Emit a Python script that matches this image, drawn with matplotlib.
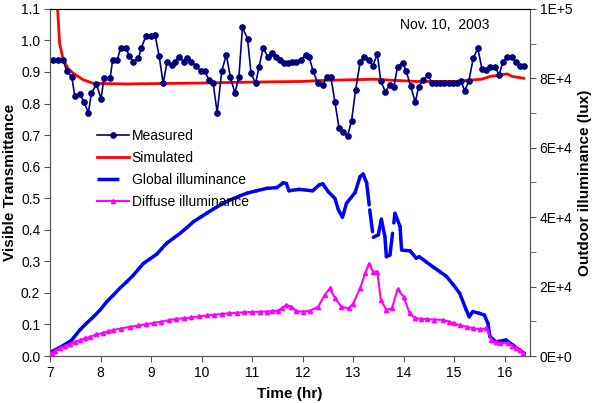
import matplotlib
matplotlib.use("Agg")
import matplotlib.pyplot as plt
from matplotlib.collections import LineCollection
from matplotlib.lines import Line2D
from matplotlib.ticker import MultipleLocator, FuncFormatter

plt.rcParams['font.family'] = ['Liberation Sans', 'DejaVu Sans']

# measured visible transmittance
meas_t = [7.06, 7.16, 7.26, 7.33, 7.43, 7.49, 7.59, 7.67, 7.76, 7.82, 7.92, 8.01, 8.07, 8.19,
          8.24, 8.33, 8.40, 8.50, 8.57, 8.65, 8.75, 8.81, 8.90, 8.99, 9.08, 9.16, 9.24, 9.32,
          9.41, 9.47, 9.56, 9.65, 9.72, 9.80, 9.89, 9.98, 10.06, 10.15, 10.23, 10.31, 10.40,
          10.49, 10.57, 10.66, 10.74, 10.81, 10.91, 10.98, 11.07, 11.14, 11.22, 11.31, 11.40,
          11.47, 11.55, 11.64, 11.72, 11.80, 11.88, 11.97, 12.06, 12.13, 12.21, 12.30, 12.40,
          12.48, 12.56, 12.64, 12.72, 12.81, 12.89, 12.97, 13.05, 13.14, 13.22, 13.31, 13.39,
          13.48, 13.55, 13.64, 13.73, 13.81, 13.88, 13.98, 14.05, 14.14, 14.23, 14.30, 14.39,
          14.48, 14.56, 14.64, 14.72, 14.80, 14.89, 14.97, 15.05, 15.13, 15.21, 15.29, 15.38,
          15.47, 15.55, 15.64, 15.72, 15.81, 15.89, 15.97, 16.05, 16.14, 16.22, 16.30, 16.38]
meas_v = [0.938, 0.938, 0.938, 0.903, 0.885, 0.824, 0.829, 0.806, 0.771, 0.833, 0.861, 0.815,
          0.882, 0.880, 0.938, 0.938, 0.977, 0.977, 0.951, 0.933, 0.944, 0.977, 1.015, 1.015,
          1.017, 0.951, 0.864, 0.933, 0.922, 0.933, 0.947, 0.933, 0.944, 0.933, 0.920, 0.903,
          0.903, 0.874, 0.864, 0.771, 0.903, 0.954, 0.885, 0.833, 0.885, 1.041, 1.006, 0.896,
          0.864, 0.917, 0.977, 0.948, 0.961, 0.947, 0.938, 0.930, 0.927, 0.933, 0.933, 0.938,
          0.954, 0.947, 0.903, 0.864, 0.859, 0.885, 0.884, 0.806, 0.724, 0.709, 0.697, 0.745,
          0.843, 0.931, 0.949, 0.938, 0.919, 0.957, 0.870, 0.838, 0.859, 0.854, 0.917, 0.930,
          0.903, 0.856, 0.804, 0.854, 0.874, 0.891, 0.866, 0.864, 0.866, 0.864, 0.864, 0.864,
          0.864, 0.873, 0.841, 0.870, 0.944, 0.975, 0.911, 0.906, 0.917, 0.917, 0.891, 0.933,
          0.946, 0.946, 0.933, 0.920, 0.920]

# simulated visible transmittance
sim_t = [7.10, 7.15, 7.19, 7.26, 7.36, 7.46, 7.66, 7.86, 8.5, 10.0, 11.0, 12.0, 12.34, 13.4,
         14.25, 15.0, 15.54, 15.72, 16.05, 16.15, 16.38]
sim_v = [1.25, 1.10, 0.99, 0.94, 0.91, 0.896, 0.875, 0.864, 0.862, 0.865, 0.868, 0.870, 0.873,
         0.877, 0.870, 0.870, 0.877, 0.886, 0.894, 0.886, 0.880]

# global illuminance (lux)
glob_t = [7.03, 7.20, 7.35, 7.43, 7.59, 7.72, 7.86, 8.00, 8.12, 8.25, 8.38, 8.52, 8.65, 8.75,
          8.85, 8.98, 9.11, 9.21, 9.31, 9.45, 9.58, 9.71, 9.84, 9.98, 10.11, 10.24, 10.37, 10.50,
          10.64, 10.77, 10.90, 11.09, 11.29, 11.49, 11.62, 11.68, 11.73, 11.93, 12.20, 12.33,
          12.40, 12.51, 12.64, 12.71, 12.79, 12.87, 13.04, 13.14, 13.20, 13.27, 13.33, 13.40,
          13.50, 13.56, 13.63, 13.66, 13.73, 13.83, 13.93, 13.96, 14.13, 14.25, 14.31, 14.45,
          14.58, 14.72, 14.85, 14.98, 15.11, 15.24, 15.30, 15.37, 15.50, 15.60, 15.67, 15.71,
          15.83, 16.03, 16.16, 16.29, 16.39]
glob_l = [1240, 2500, 3800, 4600, 7500, 9400, 11300, 13400, 15600, 17500, 19500, 21400, 23300,
          25000, 26700, 28000, 29300, 30900, 32500, 34000, 35400, 37000, 38700, 40000, 41200,
          42400, 43500, 44500, 45400, 46200, 46900, 47600, 48300, 48500, 49900, 49700, 47600,
          48000, 47600, 49300, 49600, 47300, 45400, 42100, 40000, 44000, 47100, 51700, 52400,
          49800, 42100, 34200, 34900, 39400, 34400, 28600, 29100, 41100, 37300, 30500, 30300,
          28200, 28600, 27100, 25700, 24300, 22900, 20600, 18100, 13300, 11300, 12800, 12300,
          11800, 9400, 5600, 4100, 4600, 3200, 1700, 800]

# diffuse illuminance (lux)
diff_t = [7.03, 7.10, 7.20, 7.30, 7.40, 7.50, 7.60, 7.70, 7.80, 7.92, 8.05, 8.15, 8.25, 8.40,
          8.58, 8.75, 8.90, 9.05, 9.20, 9.35, 9.50, 9.65, 9.80, 9.95, 10.10, 10.25, 10.40, 10.55,
          10.70, 10.85, 11.00, 11.15, 11.29, 11.40, 11.52, 11.60, 11.68, 11.78, 11.88, 12.00,
          12.14, 12.31, 12.44, 12.54, 12.64, 12.77, 12.91, 13.00, 13.14, 13.24, 13.31, 13.40,
          13.48, 13.55, 13.66, 13.77, 13.88, 14.00, 14.12, 14.23, 14.35, 14.46, 14.60, 14.79,
          14.90, 14.99, 15.12, 15.25, 15.38, 15.51, 15.64, 15.74, 15.82, 15.90, 16.07, 16.15,
          16.23, 16.30, 16.37]
diff_l = [950, 1500, 2300, 2900, 3500, 4100, 4600, 5100, 5600, 6200, 6700, 7100, 7500, 7900,
          8400, 8800, 9150, 9500, 9900, 10300, 10700, 10900, 11100, 11400, 11700, 11900, 12100,
          12300, 12500, 12600, 12700, 12750, 12800, 12900, 13100, 13900, 14700, 14200, 12900,
          12800, 13000, 14200, 17600, 19500, 16600, 14200, 13700, 15100, 19500, 23800, 26500,
          24300, 24300, 16100, 13300, 13700, 19200, 17100, 12300, 10900, 10700, 10600, 10500,
          10400, 9900, 9400, 8900, 8400, 8000, 7700, 8000, 4600, 3900, 3700, 3700, 3000, 2200,
          1700, 950]


def lux_fmt(v, pos):
    if v == 0:
        return "0E+0"
    exp = len(str(int(round(v)))) - 1
    return "%dE+%d" % (round(v / 10 ** exp), exp)


fig, ax = plt.subplots(figsize=(5.94, 4.03), dpi=100)
fig.subplots_adjust(left=0.0842, right=0.892, bottom=0.1166, top=0.978)
ax2 = ax.twinx()

ax.plot(sim_t, sim_v, color='#FF0000', lw=2.0, zorder=2)
ax.plot(meas_t, meas_v, color='#000080', lw=1.2, marker='o', ms=3.8, zorder=3)

# Excel-like dashes: pattern restarts on every segment
segs = [[(glob_t[i], glob_l[i]), (glob_t[i + 1], glob_l[i + 1])] for i in range(len(glob_t) - 1)]
lc = LineCollection(segs, colors='#0000FF', linewidths=2.5, linestyles=[(0, (6.3, 3.0))],
                    capstyle='round')
ax2.add_collection(lc)
ax2.plot(diff_t, diff_l, color='#FF00FF', lw=1.5, marker='^', ms=3, zorder=3)

ax.set_xlim(7, 16.5)
ax.set_ylim(0, 1.1)
ax.xaxis.set_major_locator(MultipleLocator(1))
ax.yaxis.set_major_locator(MultipleLocator(0.1))
ax.yaxis.set_major_formatter(FuncFormatter(lambda v, p: "%.1f" % v))
ax2.yaxis.set_major_locator(MultipleLocator(20000))
ax2.yaxis.set_minor_locator(MultipleLocator(10000))
ax2.yaxis.set_major_formatter(FuncFormatter(lux_fmt))
ax2.set_ylim(0, 100000)

for a in (ax, ax2):
    a.tick_params(labelsize=10, direction='out', length=4, color='#555555', pad=3)
    a.tick_params(which='minor', direction='out', length=4, color='#555555')
    for s in ('left', 'right', 'bottom'):
        a.spines[s].set_color('#555555')
    a.spines['top'].set_color('black')

ax.set_xlabel('Time (hr)', fontsize=11, fontweight='bold', labelpad=5)
ax.set_ylabel('Visible Transmittance', fontsize=11, fontweight='bold', labelpad=3)
ax2.set_ylabel('Outdoor illuminance (lux)', fontsize=11, fontweight='bold', rotation=90,
               labelpad=4)

ax.text(0.823, 0.954, 'Nov. 10,  2003', transform=ax.transAxes, ha='center', va='center',
        fontsize=10)

handles = [
    Line2D([], [], color='#000080', lw=1.2, marker='o', ms=3.8),
    Line2D([], [], color='#FF0000', lw=2.0),
    Line2D([], [], color='#0000FF', lw=2.5, dashes=(6.3, 3.0)),
    Line2D([], [], color='#FF00FF', lw=1.5, marker='^', ms=3),
]
labels = ['Measured', 'Simulated', 'Global illuminance', 'Diffuse illuminance']
leg = ax2.legend(handles, labels, loc='upper left', bbox_to_anchor=(0.098, 0.655), frameon=False,
                 fontsize=10, handlelength=2.3, handletextpad=0.2, labelspacing=0.58,
                 borderpad=0, borderaxespad=0)

fig.savefig('out.png', dpi=100)
